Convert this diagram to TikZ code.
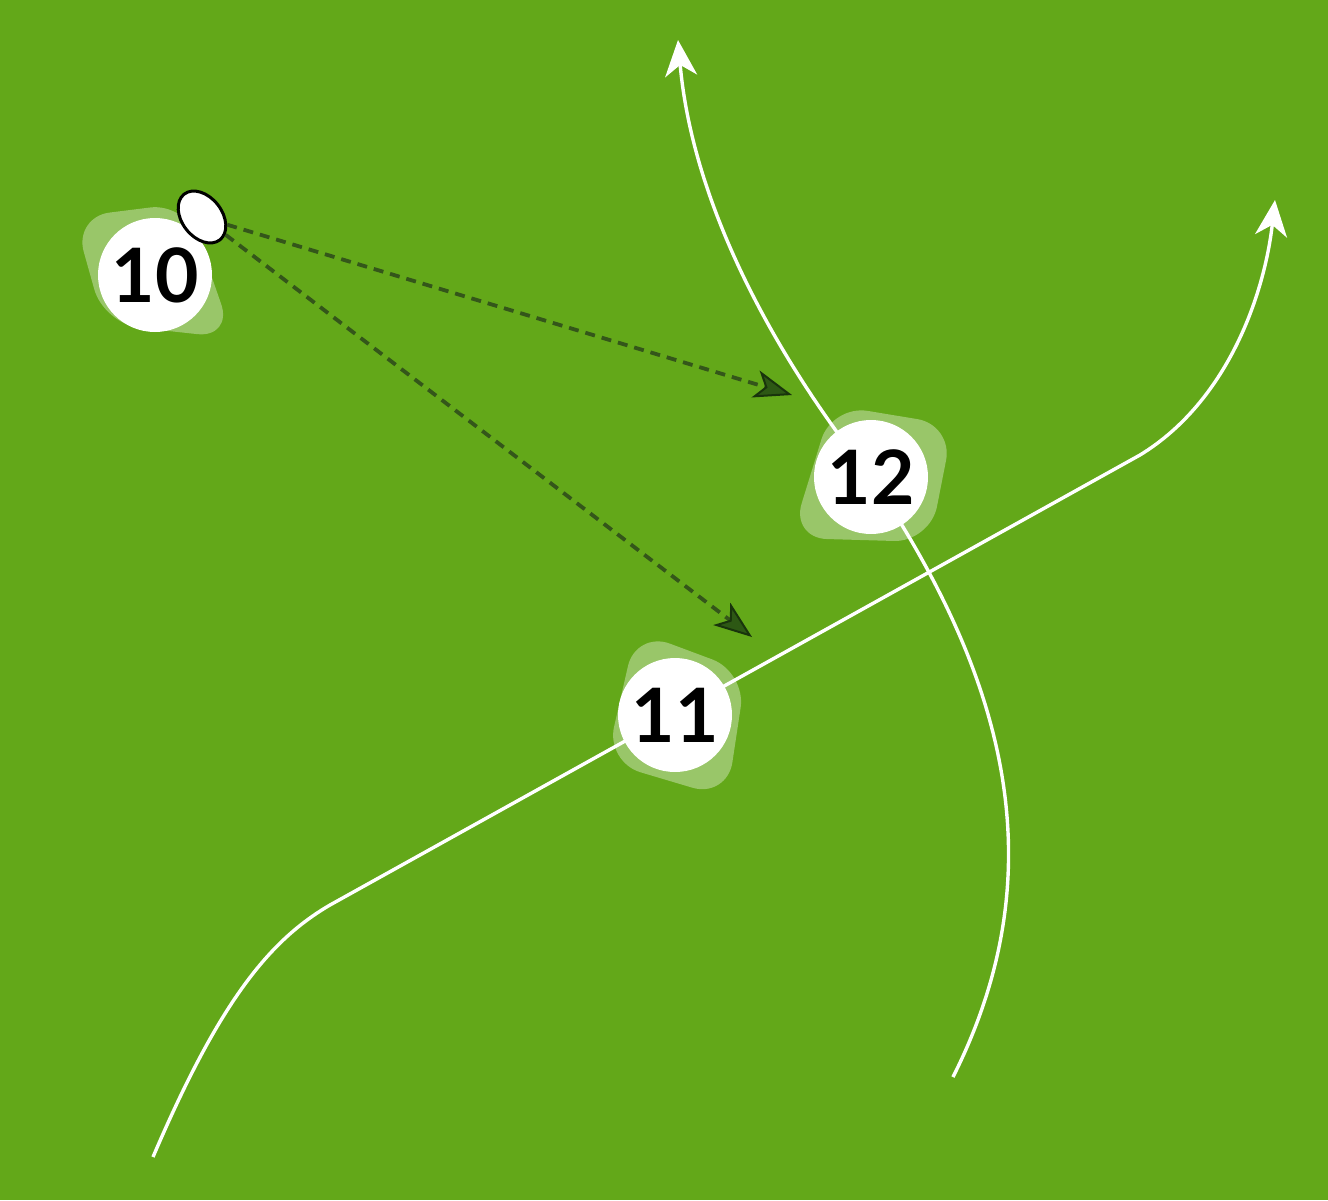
\documentclass[tikz,border=0pt]{standalone}
\usepackage{fontspec}
\setmainfont{Lato}
\usetikzlibrary{arrows.meta,shapes.geometric}
\definecolor{pitch}{RGB}{99,168,25}
\definecolor{passline}{RGB}{52,86,26}
\definecolor{passfill}{RGB}{45,88,20}
\definecolor{passedge}{RGB}{25,52,12}
\tikzset{
  run/.style={draw=white, line width=3.4pt, -{Stealth[length=36pt,width=32pt,inset=11pt,fill=white]}},
  pass/.style={draw=passline, line width=3.8pt, dash pattern=on 10pt off 7pt,
    -{Stealth[length=38pt,width=28pt,inset=10pt,fill=passfill,color=passedge,line width=2pt]}},
  blob/.style={fill=white, fill opacity=0.35, rounded corners=36pt},
  player/.style={circle, fill=white, minimum size=114pt, inner sep=0pt,
    font=\bfseries\fontsize{75}{75}\selectfont, text=black},
  ball/.style={ellipse, draw=black, fill=white, line width=3pt,
    minimum width=58pt, minimum height=40pt, inner sep=0pt}
}
\begin{document}
\begin{tikzpicture}[x=1pt,y=-1pt]
\useasboundingbox (0,0) rectangle (1328,1200);
\fill[pitch] (0,0) rectangle (1328,1200);
% run lines
\coordinate (r12s) at (953,1077);
\coordinate (r12e) at (678,40);
\coordinate (r11s) at (153,1157);
\coordinate (r11a) at (330,905);
\coordinate (r11b) at (1140,455);
\coordinate (r11e) at (1275,200);
\draw[run] (r12s) .. controls (1052,880) and (1015,690) .. (871,477)
  .. controls (770,350) and (692,200) .. (r12e);
\draw[run] (r11s) .. controls (220,1000) and (270,940) .. (r11a) -- (r11b)
  .. controls (1230,400) and (1265,290) .. (r11e);
% blobs
\fill[blob] (74,217) -- (186,203) -- (233,338) -- (104,324) -- cycle;
\fill[blob] (832,405) -- (953,425) -- (930,542) -- (791,538) -- cycle;
\fill[blob] (636,631) -- (746,672) -- (727,798) -- (606,762) -- cycle;
% players
\node[player] (p10) at (155,275) {10};
\node[player] (p12) at (871,477) {12};
\node[player] (p11) at (675,715) {11};
% ball
\node[ball, rotate=-52] (ball) at (202,217) {};
% passes
\coordinate (t12) at (792,395);
\coordinate (t11) at (752,637);
\draw[pass] (ball.35) -- (t12);
\draw[pass] (ball.15) -- (t11);
\end{tikzpicture}
\end{document}
